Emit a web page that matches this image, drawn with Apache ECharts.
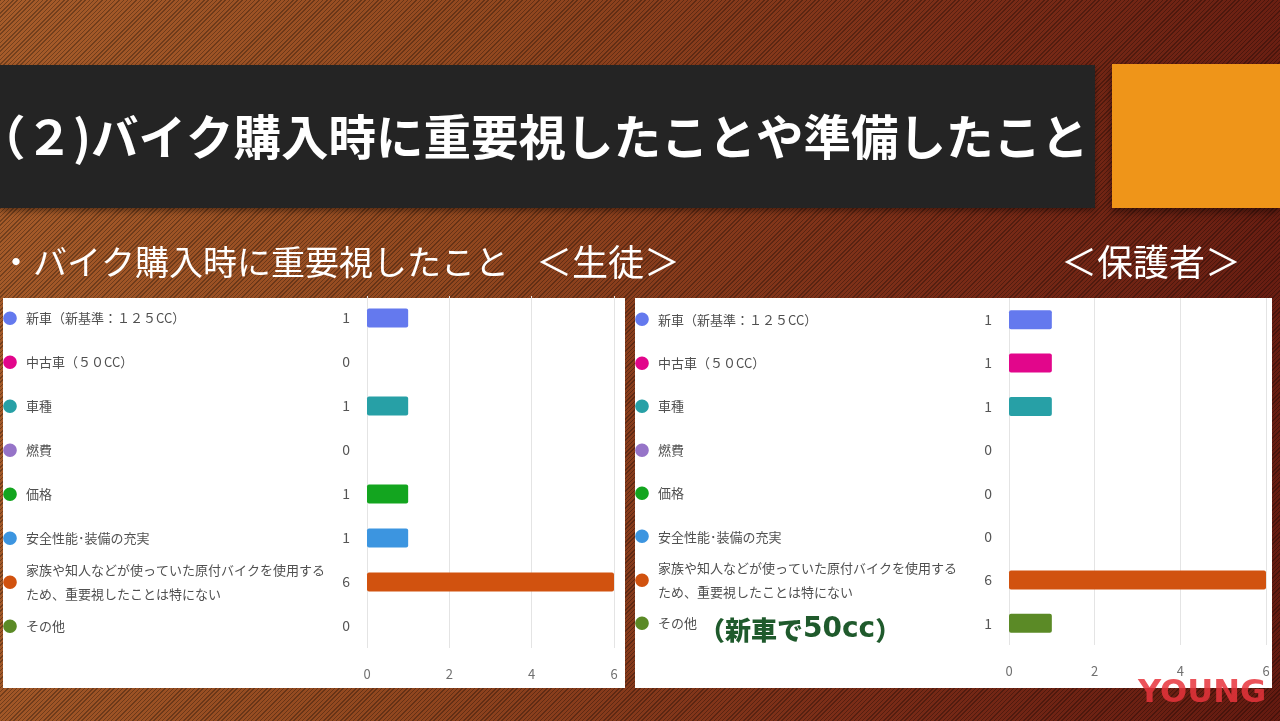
<!DOCTYPE html>
<html><head><meta charset="utf-8">
<script src="https://cdn.jsdelivr.net/npm/echarts@6/dist/echarts.min.js"></script>
<style>
html,body{margin:0;padding:0;width:1280px;height:721px;overflow:hidden;}
body{background:
 repeating-linear-gradient(135deg, rgba(0,0,0,0.3) 0px, rgba(0,0,0,0.3) 1px, rgba(255,255,255,0.0) 1px, rgba(255,255,255,0.0) 3px),
 linear-gradient(100deg, #a65c2a 0%, #92481f 35%, #7a2c17 70%, #641a10 100%);}
#c{width:1280px;height:721px;}
</style></head><body><div id="c"></div>
<script>
const titleText = '（２)バイク購入時に重要視したことや準備したこと';
const subTitle = '・バイク購入時に重要視したこと';
const studentTag = '＜生徒＞';
const parentTag = '＜保護者＞';
const categories = [
  '新車（新基準：１２５CC）',
  '中古車（５０CC）',
  '車種',
  '燃費',
  '価格',
  '安全性能･装備の充実',
  '家族や知人などが使っていた原付バイクを使用する\nため、重要視したことは特にない',
  'その他'
];
const studentValues = [1, 0, 1, 0, 1, 1, 6, 0];
const parentValues = [1, 1, 1, 0, 0, 0, 6, 1];
const barColors = ['#6479ee', '#e2068b', '#27a0a6', '#9674c8', '#13a51f', '#3c95e0', '#d1520f', '#5b8a26'];
const xMin = 0, xMax = 6, xStep = 2;

const chart = echarts.init(document.getElementById('c'), null, {renderer:'canvas'});
const labelFont = '"Noto Sans CJK JP", "Noto Sans", sans-serif';
const dotRich = {};
barColors.forEach((c, i) => { dotRich['c' + i] = {color: c, fontSize: 15, fontFamily: labelFont}; });

const grids = [
  {left: 367, width: 247, top: 296, height: 352, outerBoundsMode: 'none', containLabel: false},
  {left: 1009, width: 257, top: 298, height: 347, outerBoundsMode: 'none', containLabel: false}
];
const valueSets = [studentValues, parentValues];
const namesMargin = [367 - 26, 1009 - 658];
const dotMargin = [367 - 10, 1009 - 642];

const xAxes = [], yAxes = [], series = [];
grids.forEach((g, gi) => {
  xAxes.push({
    type: 'value', gridIndex: gi, min: xMin, max: xMax, interval: xStep, position: 'bottom',
    axisLine: {show: false}, axisTick: {show: false},
    splitLine: {show: true, lineStyle: {color: '#e4e4e4', width: 1}},
    axisLabel: {margin: 20, color: '#707070', fontSize: 13, fontFamily: labelFont}
  });
  const base = {type: 'category', gridIndex: gi, data: categories, inverse: true, position: 'left', offset: 0,
    axisLine: {show: false}, axisTick: {show: false}, splitLine: {show: false}};
  yAxes.push(Object.assign({}, base, {
    axisLabel: {interval: 0, align: 'left', margin: namesMargin[gi], color: '#505050',
      fontSize: 13, lineHeight: 24, fontFamily: labelFont}
  }));
  yAxes.push(Object.assign({}, base, {
    axisLabel: {interval: 0, align: 'center', margin: dotMargin[gi],
      formatter: (v, i) => '{c' + i + '|●}', rich: dotRich}
  }));
  yAxes.push(Object.assign({}, base, {
    axisLabel: {interval: 0, align: 'right', margin: 17, color: '#555',
      fontSize: 14, fontFamily: labelFont,
      formatter: (v, i) => String(valueSets[gi][i])}
  }));
  series.push({
    type: 'bar', xAxisIndex: gi, yAxisIndex: gi * 3, barWidth: 19,
    data: valueSets[gi].map((v, i) => ({value: v, itemStyle: {color: barColors[i], borderRadius: 2}})),
    silent: true, animation: false
  });
});

chart.setOption({
  backgroundColor: 'transparent',
  animation: false,
  graphic: [
    {type: 'rect', shape: {x: 0, y: 65, width: 1095, height: 143}, style: {fill: '#242424',
      shadowBlur: 6, shadowOffsetY: 3, shadowColor: 'rgba(0,0,0,0.4)'}, z: -10},
    {type: 'rect', shape: {x: 1112, y: 64, width: 168, height: 144}, style: {fill: '#ef9519',
      shadowBlur: 8, shadowOffsetY: 4, shadowColor: 'rgba(0,0,0,0.45)'}, z: -10},
    {type: 'text', x: -22, y: 137, style: {text: titleText, fill: '#ffffff', font: 'bold 47.5px "Noto Sans CJK JP", sans-serif', verticalAlign: 'middle'}},
    {type: 'text', x: -1, y: 262, style: {text: subTitle, fill: '#ffffff', font: '34px "Noto Sans CJK JP", sans-serif', verticalAlign: 'middle'}},
    {type: 'text', x: 536, y: 262, style: {text: studentTag, fill: '#ffffff', font: '36px "Noto Sans CJK JP", sans-serif', verticalAlign: 'middle'}},
    {type: 'text', x: 1061, y: 262, style: {text: parentTag, fill: '#ffffff', font: '36px "Noto Sans CJK JP", sans-serif', verticalAlign: 'middle'}},
    {type: 'rect', shape: {x: 3, y: 298, width: 622, height: 390}, style: {fill: '#ffffff'}, z: -10},
    {type: 'rect', shape: {x: 635, y: 298, width: 637, height: 390}, style: {fill: '#ffffff'}, z: -10},
    {type: 'text', x: 699, y: 630, z: 10, style: {
      text: '{a|（新車で}{b|50cc}{a|）}', verticalAlign: 'middle',
      rich: {
        a: {fill: '#1f5a2c', font: '900 26px "Noto Sans CJK JP", sans-serif'},
        b: {fill: '#1f5a2c', font: 'bold 28px "DejaVu Sans", sans-serif'}
      }}},
    {type: 'text', x: 1138, y: 694, style: {text: 'YOUNG', fill: 'rgba(232,52,60,0.85)', font: '900 32px "DejaVu Sans", sans-serif', verticalAlign: 'middle'}, z: 10}
  ],
  grid: grids,
  xAxis: xAxes,
  yAxis: yAxes,
  series: series
});
</script></body></html>
